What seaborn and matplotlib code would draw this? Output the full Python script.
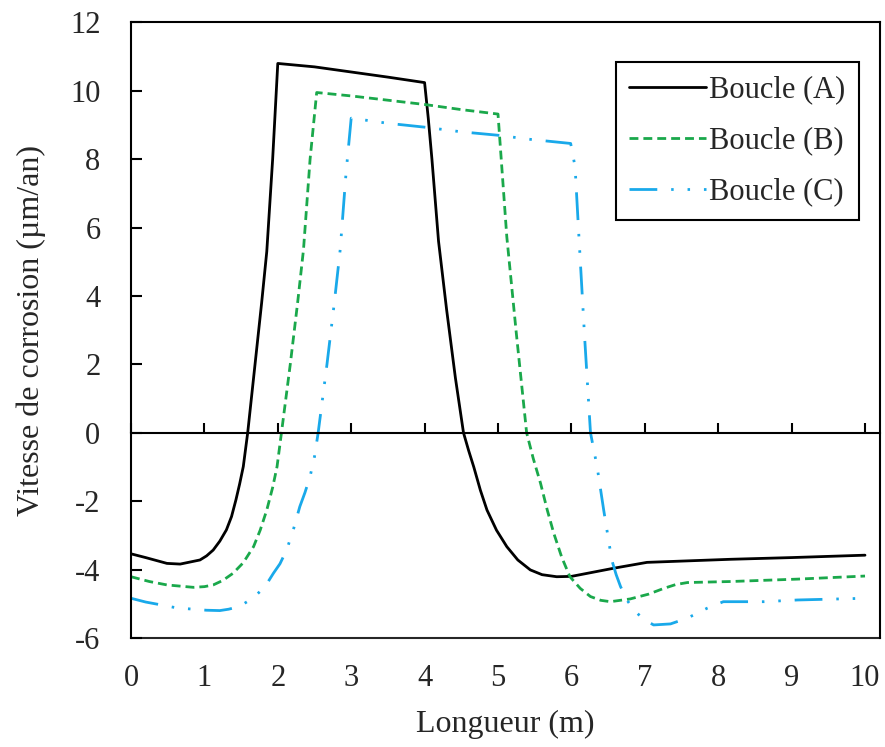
import pandas as pd
import seaborn as sns
import matplotlib.pyplot as plt

# Boucle (A)
x_a = [0, 0.2, 0.49, 0.67, 0.94, 1.03, 1.12, 1.21, 1.30, 1.37, 1.43, 1.48, 1.53, 1.59, 1.69,
       1.78, 1.85, 1.93, 2.0, 2.5, 3.0, 3.5, 4.0, 4.05, 4.1, 4.19, 4.3, 4.42, 4.53, 4.6, 4.67,
       4.76, 4.85, 4.98, 5.12, 5.27, 5.44, 5.6, 5.8, 6.0, 6.58, 7.03, 8.17, 9.0, 10.0]
y_a = [-3.54, -3.65, -3.82, -3.84, -3.72, -3.6, -3.43, -3.17, -2.84, -2.45, -1.96, -1.5, -0.99, 0, 2.0,
       3.8, 5.3, 8.0, 10.8, 10.7, 10.55, 10.4, 10.24, 9.2, 8.0, 5.6, 3.6, 1.6, 0, -0.52, -1.0,
       -1.68, -2.26, -2.85, -3.33, -3.72, -4.01, -4.15, -4.21, -4.2, -3.96, -3.79, -3.70, -3.65, -3.58]

# Boucle (B)
x_b = [0, 0.25, 0.49, 0.85, 1.0, 1.12, 1.25, 1.39, 1.53, 1.67, 1.76, 1.85, 1.93, 1.99, 2.05,
       2.17, 2.27, 2.35, 2.44, 2.53, 3.0, 4.0, 4.5, 5.0, 5.12, 5.25, 5.39, 5.48, 5.58, 5.67,
       5.76, 5.87, 5.98, 6.12, 6.26, 6.4, 6.53, 6.80, 7.05, 7.26, 7.42, 7.58, 8.17, 9.08, 10.0]
y_b = [-4.21, -4.35, -4.45, -4.52, -4.5, -4.45, -4.32, -4.11, -3.8, -3.33, -2.85, -2.26, -1.6, -0.99, 0,
       2.0, 3.8, 5.35, 8.0, 9.95, 9.85, 9.6, 9.45, 9.32, 5.73, 2.9, 0, -0.75, -1.48, -2.25,
       -2.94, -3.65, -4.21, -4.55, -4.79, -4.9, -4.94, -4.86, -4.72, -4.55, -4.44, -4.38, -4.35, -4.28, -4.19]

# Boucle (C)
x_c = [0, 0.2, 0.4, 0.62, 0.85, 1.03, 1.21, 1.33, 1.44, 1.53, 1.62, 1.71, 1.80, 1.87, 1.94,
       2.03, 2.12, 2.21, 2.30, 2.37, 2.44, 2.5, 2.55, 2.67, 2.77, 2.85, 2.93, 3.0, 3.5, 4.03,
       4.5, 5.0, 5.44, 5.99, 6.05, 6.10, 6.18, 6.26, 6.35, 6.44, 6.55, 6.61, 6.67, 6.76, 6.85,
       6.98, 7.12, 7.35, 7.58, 7.85, 8.07, 8.62, 9.08, 10.0]
y_c = [-4.84, -4.95, -5.03, -5.12, -5.16, -5.19, -5.2, -5.16, -5.10, -5.01, -4.89, -4.74, -4.55, -4.35, -4.11,
       -3.83, -3.43, -2.85, -2.16, -1.75, -1.28, -0.7, 0, 2.0, 3.8, 5.35, 7.6, 9.2, 9.05, 8.93,
       8.8, 8.7, 8.58, 8.46, 7.78, 5.83, 2.8, 0, -0.99, -2.26, -3.72, -4.15, -4.5, -4.9, -5.18,
       -5.45, -5.62, -5.59, -5.42, -5.13, -4.94, -4.94, -4.89, -4.84]

noms = ['Boucle (A)', 'Boucle (B)', 'Boucle (C)']
couleurs = ['#000000', '#1aa84b', '#19a9ea']
x_ticks = list(range(0, 11))
y_ticks = list(range(-6, 13, 2))

sns.set_style('white')
plt.rcParams['font.family'] = ['Liberation Serif', 'DejaVu Serif']
plt.rcParams['axes.unicode_minus'] = False

df = pd.concat([
    pd.DataFrame({'Longueur': x, 'Vitesse': y, 'Boucle': nom})
    for x, y, nom in zip([x_a, x_b, x_c], [y_a, y_b, y_c], noms)
])

fig = plt.figure(figsize=(8.85, 7.47), dpi=100)
ax = fig.add_axes([0.148, 0.146, 0.846, 0.824])

sns.lineplot(data=df, x='Longueur', y='Vitesse', hue='Boucle', style='Boucle',
             palette=dict(zip(noms, couleurs)),
             dashes={'Boucle (A)': '', 'Boucle (B)': (3.2, 1.8),
                     'Boucle (C)': (10, 5, 0.9, 5, 0.9, 5)},
             estimator=None, sort=False, linewidth=2, ax=ax)

ax.set_xlim(0, 10.2)
ax.set_ylim(-6, 12)
ax.set_xticks(x_ticks)
ax.set_yticks(y_ticks)

# axe horizontal au zéro avec les graduations, étiquettes en bas
for s in ax.spines.values():
    s.set_linewidth(1.5)
    s.set_color('black')
ax.spines['bottom'].set_position(('data', 0))
ax.tick_params(axis='x', bottom=True, direction='in', length=7, width=1.5,
               color='black', labelbottom=False)
ax.tick_params(axis='y', left=True, direction='in', length=8, width=1.5,
               color='black', pad=22, labelsize=22)

sec = ax.secondary_xaxis('bottom')
sec.set_xticks(x_ticks)
sec.tick_params(length=0, pad=19, labelsize=22)
sec.spines['bottom'].set_linewidth(1.5)
sec.set_xlabel('Longueur (m)', fontsize=23, labelpad=12)

ax.set_xlabel('')
ax.set_ylabel('Vitesse de corrosion (µm/an)', fontsize=23, labelpad=17)

sns.move_legend(ax, 'upper right', bbox_to_anchor=(0.972, 0.936), title=None,
                fontsize=22, frameon=True, fancybox=False, edgecolor='black',
                framealpha=1, handlelength=2.5, handletextpad=0.1,
                labelspacing=0.72, borderpad=0.45, borderaxespad=0)
ax.get_legend().get_frame().set_linewidth(1.5)

fig.savefig('out.png', dpi=100)
